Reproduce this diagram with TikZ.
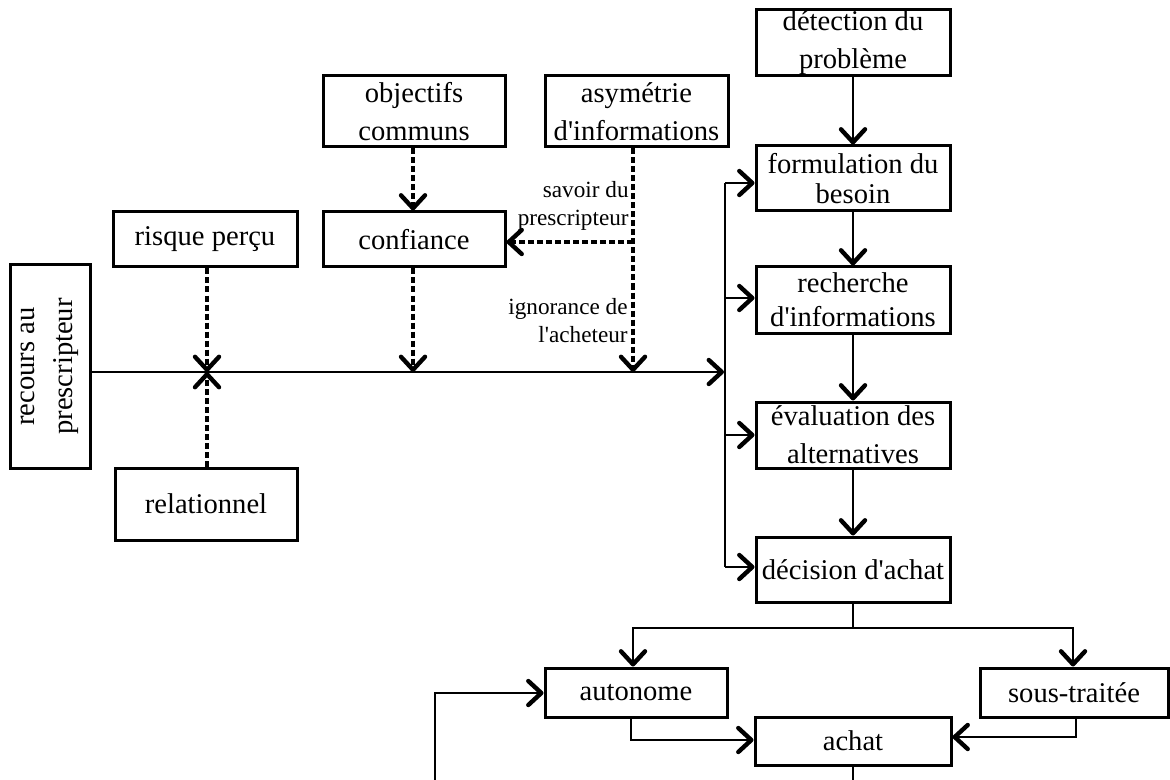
\documentclass[tikz,border=0pt]{standalone}
\usepackage{fontspec}
\setmainfont{Liberation Serif}
\usetikzlibrary{arrows.meta}
\newcommand{\ap}{\textquotesingle}
\begin{document}
\begin{tikzpicture}[x=0.5pt,y=-0.5pt,
  box/.style={draw,line width=1.5pt,inner sep=0pt,align=center,font=\fontsize{14.3}{19}\selectfont},
  lab/.style={inner sep=0pt,align=right,anchor=east,font=\fontsize{11.6}{14}\selectfont},
  tipb/.tip={Straight Barb[length=6.5pt,width=12pt,line width=2.2pt,round]},
  line/.style={line width=1pt},
  conn/.style={line width=1pt,-tipb},
  dconn/.style={line width=1.6pt,dash pattern=on 3pt off 1.5pt,-tipb},
]
\useasboundingbox[fill=white] (0,0) rectangle (1170,780);

% right column
\node[box,minimum width=97pt,minimum height=33pt] (det) at (853,43) {détection du\\problème};
\node[box,minimum width=97pt,minimum height=32.5pt,font=\fontsize{14.3}{15}\selectfont] (form) at (853,178.5) {formulation du\\besoin};
\node[box,minimum width=97pt,minimum height=33pt,font=\fontsize{14.3}{17}\selectfont] (rech) at (853,300) {recherche\\d\ap informations};
\node[box,minimum width=97pt,minimum height=33pt] (eval) at (853,435) {évaluation des\\alternatives};
\node[box,minimum width=97pt,minimum height=32.5pt] (dec) at (853,569.5) {décision d\ap achat};

% left part
\node[box,minimum width=91pt,minimum height=35.5pt] (obj) at (414,111.5) {objectifs\\communs};
\node[box,minimum width=91.5pt,minimum height=35.5pt] (asym) at (636.5,111.5) {asymétrie\\d\ap informations};
\node[box,minimum width=91pt,minimum height=27.5pt] (conf) at (414,239.5) {confiance};
\node[box,minimum width=92pt,minimum height=27.5pt] (risq) at (205,239.5) {risque perçu};
\node[box,minimum width=91pt,minimum height=36pt] (rel) at (206,504) {relationnel};
\node[box,rotate=90,minimum width=101.5pt,minimum height=40pt] (rec) at (50,366.5) {recours au\\prescripteur};

% bottom
\node[box,minimum width=91pt,minimum height=24.5pt] (auto) at (636,692.5) {autonome};
\node[box,minimum width=94pt,minimum height=24.5pt] (sous) at (1074,692.5) {sous-traitée};
\node[box,minimum width=98pt,minimum height=24pt] (achat) at (853,741) {achat};

% labels
\node[lab] (l1) at (629,206) {savoir du\\prescripteur};
\node[lab] (l2) at (628,321) {ignorance de\\l\ap acheteur};

% coordinates
\coordinate (cross) at (207,372);
\coordinate (mainend) at (724,372);
\coordinate (cm) at (413,372);
\coordinate (am) at (633,372);
\coordinate (aj) at (633,242);
\coordinate (b1) at (725,183);
\coordinate (b2) at (725,298);
\coordinate (b3) at (725,435);
\coordinate (b4) at (725,567);
\coordinate (sp) at (853,628);
\coordinate (spl) at (633,628);
\coordinate (spr) at (1073,628);
\coordinate (ab) at (631,740);
\coordinate (sb) at (1076,737);
\coordinate (lb) at (435,782);
\coordinate (lt) at (435,693);
\coordinate (ae) at (853,782);

% right column flow
\draw[conn] (det) -- (form);
\draw[conn] (form) -- (rech);
\draw[conn] (rech) -- (eval);
\draw[conn] (eval) -- (dec);

% main line and bus
\draw[conn] (rec.south |- cross) -- (mainend);
\draw[line] (b1) -- (b4);
\draw[conn] (b1) -- (form.west |- b1);
\draw[conn] (b2) -- (rech.west |- b2);
\draw[conn] (b3) -- (eval.west |- b3);
\draw[conn] (b4) -- (dec.west |- b4);

% dashed influences
\draw[dconn] (risq.south -| cross) -- (cross);
\draw[dconn] (rel.north -| cross) -- (cross);
\draw[dconn] (obj.south -| cm) -- (conf.north -| cm);
\draw[dconn] (conf.south -| cm) -- (cm);
\draw[dconn] (asym.south -| am) -- (am);
\draw[dconn] (aj) -- (conf.east |- aj);

% decision split
\draw[line] (dec.south) -- (sp);
\draw[conn] (sp) -- (spl) -- (auto.north -| spl);
\draw[conn] (sp) -- (spr) -- (sous.north -| spr);
\draw[conn] (auto.south -| ab) -- (ab) -- (achat.west |- ab);
\draw[conn] (sous.south -| sb) -- (sb) -- (achat.east |- sb);
\draw[conn] (lb) -- (lt) -- (auto.west |- lt);
\draw[line] (achat.south) -- (ae);
\end{tikzpicture}
\end{document}
